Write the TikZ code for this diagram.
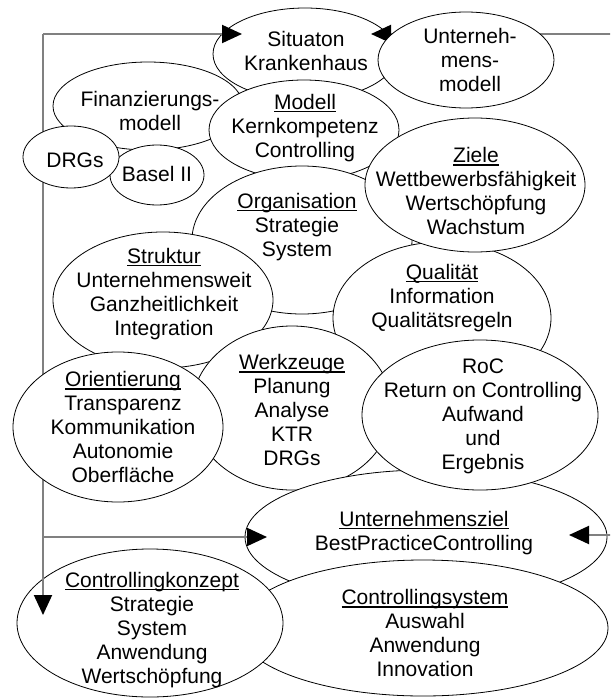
\documentclass[tikz,border=0pt]{standalone}
\usepackage{fontspec}
\setmainfont{Liberation Sans}
\usetikzlibrary{shapes.geometric, arrows.meta, positioning}
\tikzset{every node/.append style={align=center, inner sep=0pt}}
\newcommand{\kopf}[1]{\setbox0\hbox{#1}\rlap{\rule[-3pt]{\wd0}{1.1pt}}\box0}

\begin{document}
\begin{tikzpicture}[x=1pt, y=-1pt,
    font=\fontsize{21}{24}\selectfont,
    bub/.style={ellipse, draw=black, line width=0.8pt, fill=white},
    feed/.style={draw=black!50, line width=2pt},
    tip/.style={-{Triangle[length=20pt, width=18pt, color=black]}}]
\useasboundingbox (0,0) rectangle (610,698);
\clip (0,0) rectangle (610,698);
\coordinate (lt) at (43,34);
\coordinate (lm) at (43,537);
\coordinate (rt) at (640,34);
\coordinate (rm) at (640,535);
\coordinate (sitl) at (242,34);
\coordinate (sitr) at (371,34);
\coordinate (uzil) at (267,537);
\coordinate (uzir) at (569,535);
\coordinate (ckzt) at (43,615);
\draw[feed] (lt) -- (lm);
% Finanzierung
\node[bub, minimum width=190pt, minimum height=88pt] (fin) at (148,106) {};
\node (fin-t) at (150,111) {Finanzierungs-\\modell};
\node[bub, minimum width=94pt, minimum height=60pt] (bas) at (157,175) {};
\node (bas-t) at (157,174) {Basel II};
\node[bub, minimum width=96pt, minimum height=62pt] (drg) at (71,157) {};
\node (drg-t) at (75,160) {DRGs};
% Situation
\node[bub, minimum width=184pt, minimum height=92pt] (sit) at (305,54) {};
\node (sit-t) at (306,51) {Situaton\\Krankenhaus};
\draw[feed, tip] (lt) -- (sitl);
\draw[feed, tip] (rt) -- (sitr);
\node[bub, minimum width=190pt, minimum height=100pt] (mod) at (304,130) {};
\node (mod-t) at (305,128) {\kopf{Modell}\\Kernkompetenz\\Controlling};
\node[bub, minimum width=176pt, minimum height=96pt] (umod) at (466,60) {};
\node (umod-t) at (470,60) {Unterneh-\\mens-\\modell};
% Mitte
\node[bub, minimum width=220pt, minimum height=148pt] (org) at (302,240) {};
\node (org-t) at (297,227) {\kopf{Organisation}\\Strategie\\System};
\node[bub, minimum width=218pt, minimum height=152pt] (qua) at (442,318) {};
\node (qua-t) at (442,298) {\kopf{Qualität}\\Information\\Qualitätsregeln};
\node[bub, minimum width=220pt, minimum height=134pt] (zie) at (475,185) {};
\node (zie-t) at (476,191) {\kopf{Ziele}\\Wettbewerbsfähigkeit\\Wertschöpfung\\Wachstum};
\node[bub, minimum width=220pt, minimum height=136pt] (str) at (163,300) {};
\node (str-t) at (164,294) {\kopf{Struktur}\\Unternehmensweit\\Ganzheitlichkeit\\Integration};
\node[bub, minimum width=200pt, minimum height=164pt] (wkz) at (292,408) {};
\node (wkz-t) at (292,410) {\kopf{Werkzeuge}\\Planung\\Analyse\\KTR\\DRGs};
\node[bub, minimum width=210pt, minimum height=150pt] (ori) at (118,427) {};
\node (ori-t) at (123,427) {\kopf{Orientierung}\\Transparenz\\Kommunikation\\Autonomie\\Oberfläche};
% Ziel und Konzept
\node[bub, minimum width=362pt, minimum height=134pt] (uzi) at (426,537) {};
\node (uzi-t) at (424,533) {\kopf{Unternehmensziel}\\BestPracticeControlling};
\node[bub, minimum width=236pt, minimum height=150pt] (roc) at (480,415) {};
\node (roc-t) at (483,416) {RoC\\Return on Controlling\\Aufwand\\und\\Ergebnis};
\node[bub, minimum width=370pt, minimum height=136pt] (csy) at (423,628) {};
\node (csy-t) at (425,633) {\kopf{Controllingsystem}\\Auswahl\\Anwendung\\Innovation};
\node[bub, minimum width=266pt, minimum height=148pt] (ckz) at (150,623) {};
\node (ckz-t) at (152,630) {\kopf{Controllingkonzept}\\Strategie\\System\\Anwendung\\Wertschöpfung};
\draw[feed, tip] (lm) -- (uzil);
\draw[feed, tip] (lm) -- (ckzt);
\draw[feed, tip] (rm) -- (uzir);
\end{tikzpicture}
\end{document}
